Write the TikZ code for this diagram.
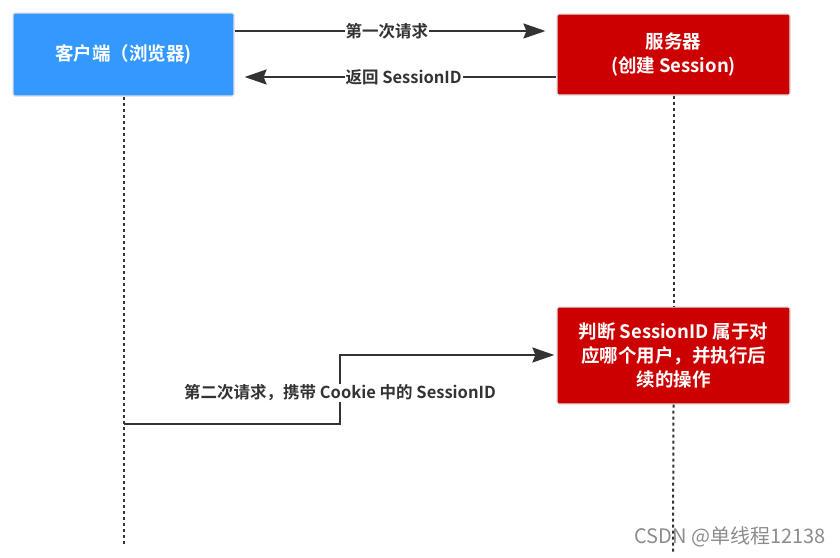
\documentclass[tikz,border=0pt]{standalone}
\usepackage{fontspec}
\setmainfont{Noto Sans CJK SC}
\newfontfamily\cjkb{Noto Sans CJK SC Bold}
\newfontfamily\wm{Noto Sans CJK SC}
\usetikzlibrary{arrows.meta}
\definecolor{cblue}{HTML}{3399FF}
\definecolor{cred}{HTML}{CC0000}
\definecolor{cline}{HTML}{333333}
\begin{document}
\begin{tikzpicture}[x=1pt,y=-1pt,
  box/.style={draw=black!12,line width=1.2pt,rounded corners=2pt,text=white,font=\cjkb\fontsize{18.5}{24}\selectfont,align=center,inner sep=0pt},
  life/.style={cline,line width=2pt,dash pattern=on 3pt off 3pt},
  msg/.style={cline,line width=2pt,-{Stealth[length=22pt,width=15pt,inset=3pt]}},
  lbl/.style={fill=white,inner sep=1pt,text=cline,font=\cjkb\fontsize{16.5}{19}\selectfont}]
\useasboundingbox (0,0) rectangle (840,557);
\node[box,fill=cblue,minimum width=221pt,minimum height=83pt] (client) at (123.5,54.5) {客户端（浏览器)};
\node[box,fill=cred,minimum width=233pt,minimum height=81pt] (server) at (673.5,54.5) {服务器\\(创建 Session)};
\node[box,fill=cred,minimum width=233pt,minimum height=97pt] (judge) at (673.5,355.5) {判断 SessionID 属于对\\应哪个用户，并执行后\\续的操作};
\coordinate (cl) at (124,545);
\coordinate (sl) at (673,553);
\draw[life] (client.south -| 124,0) -- (cl);
\draw[life] (server.south) -- (server.north |- judge.north);
\draw[life] (judge.south) -- (sl);
\draw[msg] (client.east |- 0,31) -- ([xshift=-11pt]server.west |- 0,31) node[lbl,pos=0.49] {第一次请求};
\draw[msg] (server.west |- 0,77) -- ([xshift=10pt]client.east |- 0,77) node[lbl,pos=0.49] {返回 SessionID};
\coordinate (start) at (124,424);
\coordinate (bend) at (340,424);
\draw[msg] (start) -- (bend) -- (340,355) -- ([xshift=-2pt]judge.west |- 0,355);
\node[lbl] (l3) at (340,393) {第二次请求，携带 Cookie 中的 SessionID};
\node[text=black!45,font=\wm\fontsize{20}{22}\selectfont,anchor=east,inner sep=0pt] (wmk) at (826,537) {CSDN @单线程12138};
\end{tikzpicture}
\end{document}
